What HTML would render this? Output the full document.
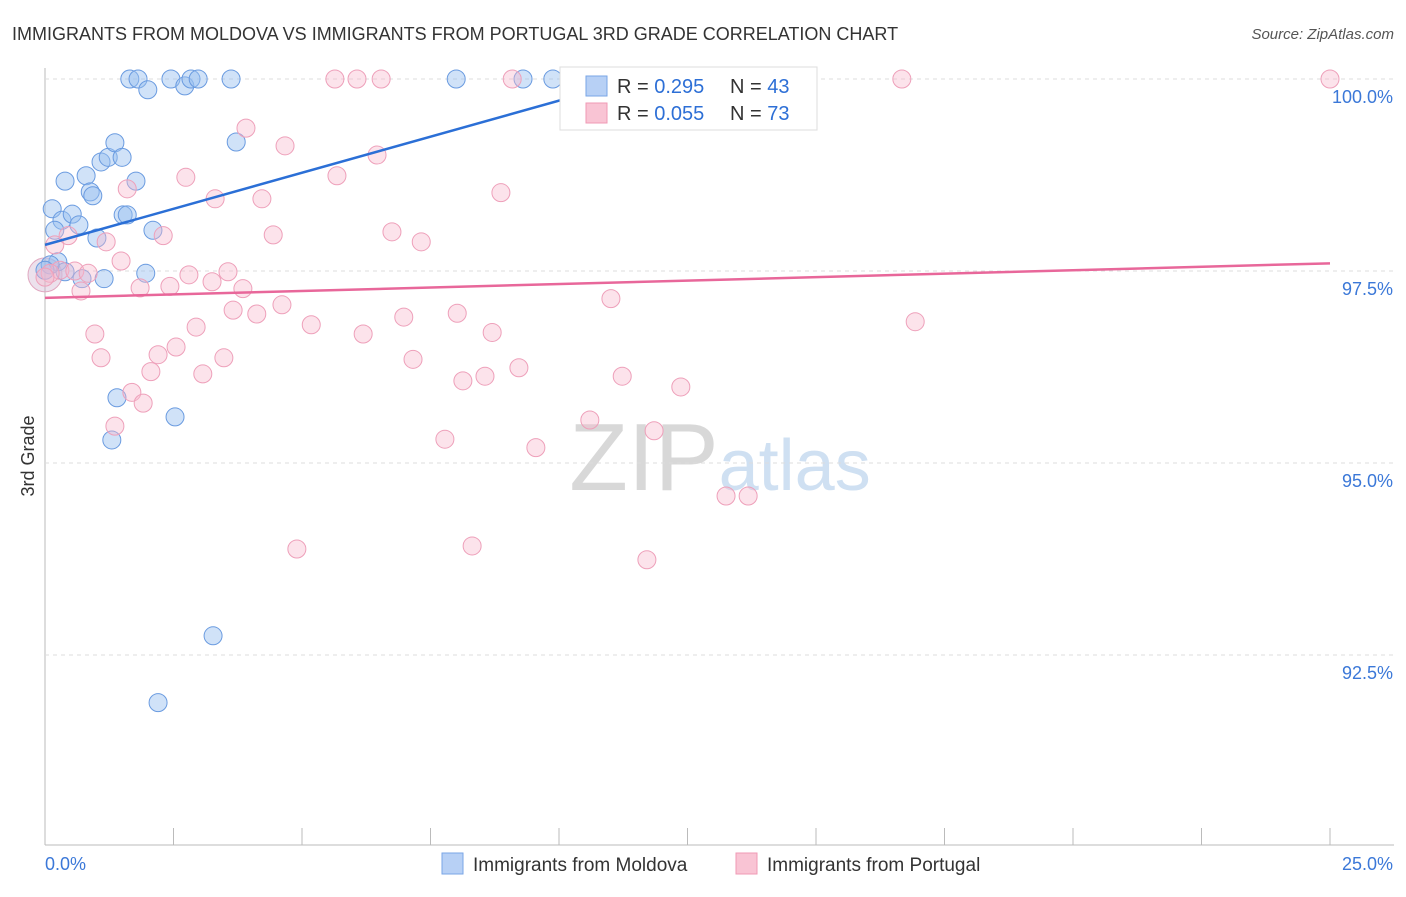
<!DOCTYPE html>
<html><head><meta charset="utf-8"><style>
body{margin:0;background:#fff;font-family:"Liberation Sans",sans-serif;}
svg text{font-family:"Liberation Sans",sans-serif;}
</style></head><body>
<svg id="c" width="1406" height="892">
<text x="12" y="40" font-size="18" fill="#333">IMMIGRANTS FROM MOLDOVA VS IMMIGRANTS FROM PORTUGAL 3RD GRADE CORRELATION CHART</text>
<text x="1394" y="39" font-size="15" fill="#555" font-style="italic" text-anchor="end">Source: ZipAtlas.com</text>
<text x="34" y="456" font-size="18" fill="#333" text-anchor="middle" transform="rotate(-90 34 456)">3rd Grade</text>
<text x="720" y="490" font-size="96" fill="#ddd" text-anchor="middle" font-family="Liberation Serif"><tspan fill="#d8d8d8">ZIP</tspan><tspan fill="#cfe0f2" font-family="Liberation Sans" font-size="72">atlas</tspan></text>
<g id="grid"></g><g id="pts"></g><g id="trend"></g>
<g>
<rect x="560" y="67" width="257" height="63" fill="#fff" stroke="#ddd"/>
<rect x="586" y="76" width="21" height="20" fill="#b7d0f5" stroke="#7aa6e6"/>
<rect x="586" y="103" width="21" height="20" fill="#f9c4d4" stroke="#f09ab5"/>
<text x="617" y="93" font-size="20" fill="#333">R = <tspan fill="#2d6fd6">0.295</tspan></text>
<text x="730" y="93" font-size="20" fill="#333">N = <tspan fill="#2d6fd6">43</tspan></text>
<text x="617" y="120" font-size="20" fill="#333">R = <tspan fill="#2d6fd6">0.055</tspan></text>
<text x="730" y="120" font-size="20" fill="#333">N = <tspan fill="#2d6fd6">73</tspan></text>
</g>
<g>
<rect x="442" y="853" width="21" height="21" fill="#b7d0f5" stroke="#7aa6e6"/>
<text x="473" y="871" font-size="19" fill="#333">Immigrants from Moldova</text>
<rect x="736" y="853" width="21" height="21" fill="#f9c4d4" stroke="#f09ab5"/>
<text x="767" y="871" font-size="19" fill="#333">Immigrants from Portugal</text>
</g>
</svg>
<script>
const yTicks=[100,97.5,95,92.5];
const yTickLabels=["100.0%","97.5%","95.0%","92.5%"];
const xEnds=["0.0%","25.0%"];
const blueX=[1.65,1.81,2.00,2.45,2.72,2.84,2.98,3.62,8.00,9.30,9.88,0.39,0.80,1.09,1.23,1.36,1.50,1.77,0.88,0.93,0.14,0.33,0.53,0.66,0.19,1.52,1.60,2.10,1.01,3.72,0.25,0.39,0.72,1.15,1.96,1.40,2.53,1.30,3.27,2.20,0.1,0.0,13.9];
const blueY=[100,100,99.86,100,99.91,100,100,100,100,100,100,98.67,98.74,98.92,98.98,99.17,98.98,98.67,98.53,98.48,98.31,98.16,98.24,98.10,98.03,98.23,98.23,98.03,97.93,99.18,97.62,97.49,97.40,97.40,97.47,95.85,95.60,95.30,92.75,91.88,97.58,97.51,100];
const pinkX=[5.64,6.07,6.54,9.09,13.68,14.16,16.67,25.0,3.91,4.67,6.46,2.74,5.68,8.87,1.60,3.31,4.22,6.75,7.32,4.44,2.30,1.19,0.19,0.45,1.48,0.29,0.58,0.84,0.70,1.85,2.43,2.80,3.25,3.56,3.85,4.61,3.66,4.12,5.18,2.94,0.97,6.19,6.98,8.02,8.70,11.01,16.93,1.09,2.20,2.55,3.48,2.06,3.07,7.16,8.13,8.56,9.22,11.23,12.37,1.69,1.91,1.36,7.78,10.60,11.85,9.55,13.25,13.68,4.90,8.31,11.71,0.1,0.0];
const pinkY=[100,100,100,100,100,100,100,100,99.36,99.13,99.01,98.72,98.74,98.52,98.57,98.44,98.44,98.01,97.88,97.97,97.96,97.88,97.84,97.96,97.63,97.51,97.50,97.47,97.24,97.28,97.30,97.45,97.36,97.49,97.27,97.06,96.99,96.94,96.80,96.77,96.68,96.68,96.90,96.95,96.70,97.14,96.84,96.37,96.41,96.51,96.37,96.19,96.16,96.35,96.07,96.13,96.24,96.13,95.99,95.92,95.78,95.48,95.31,95.56,95.42,95.20,94.57,94.57,93.88,93.92,93.74,97.47,97.42];
const blueTrend=[[0,97.84],[11.5,100]];
const pinkTrend=[[0,97.15],[25,97.60]];
const NS="http://www.w3.org/2000/svg";
const sx=v=>45+v/25*1285, sy=v=>79+(100-v)/2.5*192;
function mk(t,a,p){const e=document.createElementNS(NS,t);for(const k in a)e.setAttribute(k,a[k]);p.appendChild(e);return e;}
const g=document.getElementById('grid');
mk('line',{x1:45,y1:68,x2:45,y2:845,stroke:'#bbb'},g);
mk('line',{x1:45,y1:845,x2:1394,y2:845,stroke:'#bbb'},g);
for(let i=0;i<=10;i++){const l=mk('line',{x1:45+i*128.5,y1:845,x2:45+i*128.5,y2:i%1==0?(i==0?845:828):828,stroke:'#bbb'},g);}
yTicks.forEach((v,i)=>{const l=mk('line',{x1:45,y1:sy(v),x2:1394,y2:sy(v),stroke:'#ddd','stroke-dasharray':'4,4'},g);

const t=mk('text',{x:1393,y:sy(v)+24,'font-size':18,fill:'#3b78d8','text-anchor':'end'},g);t.textContent=yTickLabels[i];
});
xEnds.forEach((s,i)=>{const t=mk('text',{x:i?1393:45,y:870,'font-size':18,fill:'#3b78d8','text-anchor':i?'end':'start'},g);t.textContent=s;
});
const P=document.getElementById('pts');
const big=mk('circle',{cx:sx(0),cy:sy(97.45),r:17,fill:'rgba(200,170,200,0.35)',stroke:'#e0a8c0'},P);

blueX.forEach((x,i)=>{const c=mk('circle',{cx:sx(x),cy:sy(blueY[i]),r:9,fill:'rgba(150,190,240,0.45)',stroke:'#6a9be0','stroke-width':1},P);
});
pinkX.forEach((x,i)=>{const c=mk('circle',{cx:sx(x),cy:sy(pinkY[i]),r:9,fill:'rgba(248,185,205,0.4)',stroke:'#eea0ba','stroke-width':1},P);
});
const T=document.getElementById('trend');
const bl=mk('line',{x1:sx(blueTrend[0][0]),y1:sy(blueTrend[0][1]),x2:sx(blueTrend[1][0]),y2:sy(blueTrend[1][1]),stroke:'#2b6fd6','stroke-width':2.5},T);

const pl=mk('line',{x1:sx(pinkTrend[0][0]),y1:sy(pinkTrend[0][1]),x2:sx(pinkTrend[1][0]),y2:sy(pinkTrend[1][1]),stroke:'#e8679a','stroke-width':2.5},T);

</script>
</body></html>
